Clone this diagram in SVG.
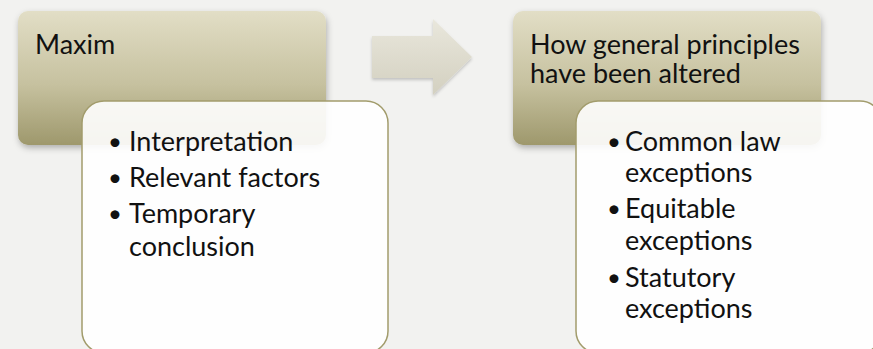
<svg xmlns="http://www.w3.org/2000/svg" width="873" height="349" viewBox="0 0 873 349">
  <defs>
    <linearGradient id="hdrFill" x1="0" y1="0" x2="0" y2="1">
      <stop offset="0" stop-color="#e2dec6"/>
      <stop offset="0.55" stop-color="#c6c19f"/>
      <stop offset="1" stop-color="#9e986c"/>
    </linearGradient>
    <linearGradient id="arrowFill" x1="0" y1="0" x2="0" y2="1">
      <stop offset="0" stop-color="#e9e7dc"/>
      <stop offset="1" stop-color="#d3d0c0"/>
    </linearGradient>
    <filter id="shadow" x="-10%" y="-10%" width="125%" height="130%">
      <feDropShadow dx="1" dy="3" stdDeviation="3" flood-color="#000" flood-opacity="0.28"/>
    </filter>
    <filter id="arrowShadow" x="-10%" y="-10%" width="125%" height="130%">
      <feDropShadow dx="0" dy="2" stdDeviation="1.5" flood-color="#000" flood-opacity="0.2"/>
    </filter>
  </defs>
  <style>
    .hdr { fill: url(#hdrFill); filter: url(#shadow); }
    .card { fill: #ffffff; fill-opacity: 0.9; stroke: #a29c6c; stroke-width: 1.5; }
    .t { font-family: Lato, "Open Sans", "Liberation Sans", sans-serif; font-size: 27px; fill: #111111; }
    .b { font-size: 24px; }
    .arrow { fill: url(#arrowFill); filter: url(#arrowShadow); }
  </style>

  <!-- page background -->
  <rect x="0" y="0" width="873" height="349" fill="#f2f2f0"/>

  <!-- left step: Maxim -->
  <g id="node-maxim">
    <rect class="hdr" x="18" y="11" width="308" height="134" rx="10"/>
    <text class="t" x="35" y="54">Maxim</text>
    <rect class="card" x="82" y="101" width="306" height="252" rx="22"/>
    <g class="t">
      <text class="b" x="108" y="150">•</text><text x="129" y="151">Interpretation</text>
      <text class="b" x="108" y="186">•</text><text x="129" y="187">Relevant factors</text>
      <text class="b" x="108" y="222">•</text><text x="129" y="223">Temporary<tspan x="129" dy="33">conclusion</tspan></text>
    </g>
  </g>

  <!-- right step: altered principles -->
  <g id="node-altered">
    <rect class="hdr" x="513" y="11" width="308" height="134" rx="10"/>
    <text class="t" x="530" y="54">How general principles<tspan x="530" dy="29">have been altered</tspan></text>
    <rect class="card" x="576" y="101" width="306" height="252" rx="22"/>
    <g class="t">
      <text class="b" x="607" y="150">•</text><text x="625" y="151">Common law<tspan x="625" dy="31">exceptions</tspan></text>
      <text class="b" x="607" y="217">•</text><text x="625" y="218">Equitable<tspan x="625" dy="32">exceptions</tspan></text>
      <text class="b" x="607" y="286">•</text><text x="625" y="287">Statutory<tspan x="625" dy="31">exceptions</tspan></text>
    </g>
  </g>

  <!-- connector between the two steps -->
  <g id="connectors">
    <path class="arrow" d="M372 36 H433 V19 L472 57 L433 95 V78 H372 Z"/>
  </g>
</svg>
